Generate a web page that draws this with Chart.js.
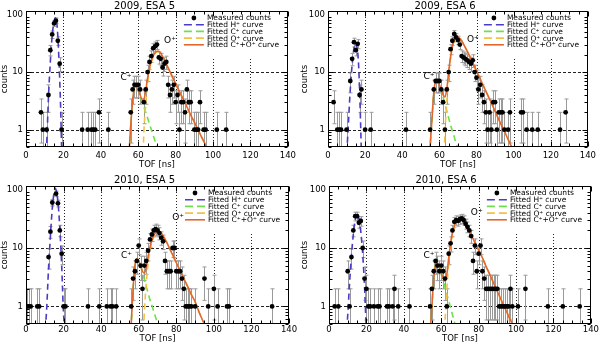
<!DOCTYPE html>
<html>
<head>
<meta charset="UTF-8"/>
<title>TOF spectra</title>
<script src="https://cdn.jsdelivr.net/npm/chart.js@4.4.0/dist/chart.umd.min.js"></script>
<style>
    body { margin: 0; background: #fff; }
    #wrap { position: relative; width: 600px; height: 345px; }
    #wrap canvas { position: absolute; }
</style>
</head>
<body>
<div id="wrap">
    <canvas id="p1" width="300" height="172" style="left:0;top:0"></canvas>
    <canvas id="p2" width="300" height="172" style="left:300px;top:0"></canvas>
    <canvas id="p3" width="300" height="173" style="left:0;top:172px"></canvas>
    <canvas id="p4" width="300" height="173" style="left:300px;top:172px"></canvas>
</div>
<script>
// axis ticks
var xTicks = [0, 20, 40, 60, 80, 100, 120, 140];
var yTicks = [1, 10, 100];

// measured counts [TOF ns, counts]
var counts1 = [[8,2],[9,1],[11,1],[12,4],[13,24],[14,45],[15,70],[16,78],[17,35],[18,14],[19,1],[30,1],[33,1],[35,1],[36,1],[37,1],[39,2],[44,1],
    [56,2],[57,5],[58,6],[59,6],[60,6],[61,5],[63,3],[64,5],[65,10],[66,15],[67,19],[68,26],[69,28],[70,30],[71,18],[72,17],[73,12],[74,14],[75,15],
    [76,6],[77,4],[78,5],[79,6],[80,3],[81,4],[82,1],[83,3],[84,3],[85,2],[86,5],[87,3],[88,3],[90,1],[91,1],[92,1],[93,3],[95,1],[96,1],[102,1],[107,1]];
var counts2 = [[3,3],[5,1],[6,1],[7,1],[10,1],[12,7],[13,17],[14,33],[15,24],[16,31],[17,4],[18,5],[20,1],[23,1],[42,1],
    [55,1],[57,5],[58,7],[59,7],[60,7],[61,5],[62,3],[63,1],[64,5],[65,10],[66,25],[67,35],[68,46],[69,40],[70,36],[71,30],[72,19],[73,18],[74,17],
    [75,16],[76,15],[77,14],[78,16],[79,10],[80,8],[81,5],[82,6],[83,4],[84,3],[85,2],[86,1],[87,2],[88,1],[89,3],[90,3],[91,1],[92,2],[93,2],[94,2],
    [95,1],[97,1],[98,2],[104,2],[105,2],[107,1],[110,1],[113,1],[125,1],[128,2]];
var counts3 = [[0.5,1],[1.5,1],[2.5,1],[6,1],[7,1],[12,7],[13,19],[14,60],[16,85],[17,58],[18,20],[19,8],[20,1],[21,1],[33,1],[39,1],[43,1],[45,1],[46,1],[48,1],
    [56,1],[57,3],[58,4],[59,6],[60,11],[61,5],[62,2],[63,5],[64,6],[65,9],[66,14],[67,17],[68,20],[69,21],[70,20],[71,18],[72,15],[73,13],[74,6],
    [75,4],[76,4],[77,4],[78,10],[79,10],[80,4],[81,4],[82,4],[83,3],[84,2],[85,1],[86,1],[87,1],[88,1],[90,1],[95,3],[97,1],[100,2],[102,1],[107,1],[108,1],[131,1]];
var counts4 = [[3,1],[5,1],[10,4],[11,1],[12,7],[13,20],[14,35],[15,35],[16,27],[17,29],[18,10],[19,3],[20,2],[21,1],[22,1],[24,1],[26,1],[27,1],[31,1],[32,1],[34,1],[35,2],[37,1],[43,1],
    [54,1],[55,2],[56,4],[57,6],[58,5],[59,4],[60,5],[61,4],[62,3],[63,1],[64,8],[65,12],[66,20],[67,28],[68,30],[69,29],[70,31],[71,32],[72,30],[73,26],
    [74,23],[75,20],[76,16],[77,6],[78,11],[79,4],[80,8],[81,11],[82,4],[83,3],[84,2],[85,2],[86,2],[87,2],[88,2],[89,2],[90,2],[91,1],[92,1],[93,1],
    [94,1],[95,1],[96,1],[97,2],[98,1],[101,1],[105,2],[117,1],[125,1],[134,1]];

// fitted curves [TOF ns, counts]
var hFit1 = [[10.8,0.4],[11,0.5],[12,3.6],[13,15],[14,43],[15,76],[15.8,88],[16.5,69],[17,43],[17.5,20],[18,7.6],[18.5,2.5],[19,0.55],[19.2,0.35]];
var cFit1 = [[55.1,0.4],[55.3,0.5],[56,1.2],[57,3.2],[58,5.5],[59,5.6],[60,4.8],[61,3.9],[62,3.1],[63,2.5],[64,2.0],[65,1.6],[66,1.25],[67,1.0],[68,0.8],[69,0.63],[70,0.5],[70.5,0.44]];
var oFit1 = [[62.5,0.4],[62.7,0.5],[63,0.9],[64,2.8],[65,6.3],[66,10.5],[67,14.8],[68,18.3],[69,21],[70,22.5],[71,22.6],[72,21],[73,18.5],[74,16],[75,13.8],[76,11.8],
    [78,8.6],[80,6.3],[82,4.6],[84,3.4],[86,2.5],[88,1.8],[90,1.35],[92,0.99],[94,0.73],[96,0.54],[97,0.45]];
var coFit1 = [[55.1,0.4],[55.3,0.5],[56,1.2],[57,3.2],[58,5.5],[59,5.6],[60,4.8],[61,4.0],[62,3.4],[63,3.4],[64,4.8],[65,7.9],[66,11.8],[67,15.8],[68,19.1],[69,21.6],
    [70,23],[71,23],[72,21.3],[73,18.7],[74,16.1],[75,13.9],[76,11.8],[78,8.6],[80,6.3],[82,4.6],[84,3.4],[86,2.5],[88,1.8],[90,1.35],[92,0.99],[94,0.73],[96,0.54],[97,0.45]];

var hFit2 = [[10.1,0.4],[10.3,0.5],[11,1.3],[12,5],[13,13.5],[14,26],[14.8,32],[15.5,28],[16,22],[16.5,13],[17,5],[17.5,1.5],[17.9,0.5],[18.1,0.35]];
var cFit2 = [[54.8,0.4],[55,0.5],[56,1.5],[57,4.5],[58,6.8],[59,7],[60,6],[61,4.8],[62,3.7],[63,2.8],[64,2.1],[65,1.6],[66,1.2],[67,0.95],[68,0.75],[69,0.58],[70,0.47],[70.3,0.42]];
var oFit2 = [[62.5,0.4],[62.7,0.5],[63,0.9],[64,3],[65,8.5],[66,17],[67,27],[68,35],[69,39.5],[70,40],[71,38],[72,34.5],[73,30.5],[74,26.5],[75,23],[76,19.8],
    [78,14.4],[80,10.5],[82,7.6],[84,5.5],[86,4.0],[88,2.9],[90,2.1],[92,1.5],[94,1.1],[96,0.8],[98,0.58],[99,0.5],[100,0.43]];
var coFit2 = [[54.8,0.4],[55,0.5],[56,1.5],[57,4.5],[58,6.8],[59,7],[60,6],[61,4.9],[62,4.0],[63,3.7],[64,5.1],[65,10.1],[66,18.2],[67,28],[68,35.8],[69,40.1],
    [70,40.5],[71,38.4],[72,34.8],[73,30.7],[74,26.6],[75,23],[76,19.8],[78,14.4],[80,10.5],[82,7.6],[84,5.5],[86,4.0],[88,2.9],[90,2.1],[92,1.5],[94,1.1],[96,0.8],[98,0.58],[99,0.5],[100,0.43]];

var hFit3 = [[10.3,0.4],[10.5,0.5],[11,0.9],[12,4.5],[13,16],[14,48],[15,92],[15.5,106],[16,98],[17,62],[18,22],[19,5],[19.8,1],[20.4,0.45],[20.6,0.35]];
var cFit3 = [[55.8,0.4],[56,0.5],[57,2],[58,5],[59,6.5],[60,6],[61,5],[62,3.8],[63,2.9],[64,2.2],[65,1.7],[66,1.3],[67,1.05],[68,0.82],[69,0.65],[70,0.52],[71,0.42]];
var oFit3 = [[62.5,0.4],[62.7,0.5],[63,0.8],[64,2.5],[65,5.5],[66,9],[67,12.5],[68,15.5],[69,17.8],[70,19],[71,19],[72,17.8],[73,16],[74,14],[75,12.2],[76,10.5],
    [78,7.7],[80,5.6],[82,4.1],[84,3.0],[86,2.2],[88,1.6],[90,1.2],[92,0.82],[94,0.58],[95,0.5],[96,0.43]];
var coFit3 = [[55.8,0.4],[56,0.5],[57,2],[58,5],[59,6.5],[60,6],[61,5],[62,4.0],[63,3.7],[64,4.7],[65,7.2],[66,10.3],[67,13.5],[68,16.3],[69,18.5],[70,19.5],
    [71,19.4],[72,18.1],[73,16.2],[74,14.2],[75,12.3],[76,10.5],[78,7.7],[80,5.6],[82,4.1],[84,3.0],[86,2.2],[88,1.6],[90,1.2],[92,0.82],[94,0.58],[95,0.5],[96,0.43]];

var hFit4 = [[9.5,0.4],[9.7,0.5],[10,0.7],[11,2.5],[12,7.5],[13,17],[14,30],[14.9,38],[15.5,36],[16,31],[17,19],[18,8],[19,2.2],[19.8,0.5],[20,0.38]];
var cFit4 = [[54.2,0.4],[54.4,0.5],[55,1],[56,3],[57,5.2],[57.6,5.7],[58,5.5],[59,4.7],[60,3.6],[61,2.8],[62,2.1],[63,1.6],[64,1.25],[65,0.95],[66,0.72],[67,0.55],[67.5,0.47],[68,0.41]];
var oFit4 = [[61.7,0.4],[61.9,0.5],[62,0.55],[63,2],[64,5.5],[65,11],[66,17.5],[67,23.5],[68,28],[69,30.5],[70,31],[71,30],[72,28],[73,25],[74,22],[75,19],[76,16.5],
    [78,12.5],[80,9.2],[82,6.8],[84,4.8],[86,3.5],[88,2.5],[90,1.8],[92,1.3],[94,0.95],[96,0.68],[98,0.5],[99,0.43]];
var coFit4 = [[54.2,0.4],[54.4,0.5],[55,1],[56,3],[57,5.2],[57.6,5.7],[58,5.5],[59,4.7],[60,3.7],[61,3.1],[62,2.7],[63,3.6],[64,6.8],[65,12],[66,18.2],[67,24],
    [68,28.4],[69,30.8],[70,31.2],[71,30.1],[72,28],[73,25],[74,22],[75,19],[76,16.5],[78,12.5],[80,9.2],[82,6.8],[84,4.8],[86,3.5],[88,2.5],[90,1.8],[92,1.3],[94,0.95],[96,0.68],[98,0.5],[99,0.43]];

var titles = ['2009, ESA 5', '2009, ESA 6', '2010, ESA 5', '2010, ESA 6'];
var legendLabels = ['Measured counts', 'Fitted H\u207A curve', 'Fitted C\u207A curve', 'Fitted O\u207A curve', 'Fitted C\u207A+O\u207A curve'];

var BLUE = '#4a3cc4', GREEN = '#6ee04c', YELLOW = '#f2c245', ORANGE = '#e2672c';
Chart.defaults.font.family = '"DejaVu Sans", "Liberation Sans", Arial, sans-serif';
Chart.defaults.color = '#000';

function xy(arr) {
    return arr.map(function (p) { return {x: p[0], y: p[1]}; });
}

// IDL-looking frame, grid, error bars, legend
var idlPlugin = {
    id: 'idl',
    beforeDatasetsDraw: function (chart) {
        var ctx = chart.ctx, a = chart.chartArea, x = chart.scales.x, y = chart.scales.y;
        ctx.save();
        ctx.beginPath();
        ctx.rect(a.left, a.top, a.right - a.left, a.bottom - a.top);
        ctx.clip();
        ctx.lineWidth = 1;
        ctx.strokeStyle = '#222';
        ctx.setLineDash([1, 2]);
        [20, 40, 60, 80, 100, 120].forEach(function (v) {
            var px = Math.round(x.getPixelForValue(v)) + 0.5;
            ctx.beginPath(); ctx.moveTo(px, a.top); ctx.lineTo(px, a.bottom); ctx.stroke();
        });
        ctx.setLineDash([3, 2]);
        [1, 10].forEach(function (v) {
            var py = Math.round(y.getPixelForValue(v)) + 0.5;
            ctx.beginPath(); ctx.moveTo(a.left, py); ctx.lineTo(a.right, py); ctx.stroke();
        });
        ctx.setLineDash([]);
        // legend background
        ctx.fillStyle = '#fff';
        ctx.fillRect(a.right - 107, a.top, 107, 48);

        // Poisson error bars
        var meas = chart.data.datasets[chart.data.datasets.length - 1].data;
        ctx.strokeStyle = '#9a9a9a';
        meas.forEach(function (p) {
            var e = Math.sqrt(p.y);
            var px = Math.round(x.getPixelForValue(p.x)) + 0.5;
            var top = y.getPixelForValue(p.y + e);
            var lo = p.y - e;
            var bot = lo > 0 ? y.getPixelForValue(lo) : a.bottom + 5;
            ctx.beginPath();
            ctx.moveTo(px, top); ctx.lineTo(px, bot);
            ctx.moveTo(px - 2, top); ctx.lineTo(px + 2, top);
            if (lo > 0) { ctx.moveTo(px - 2, bot); ctx.lineTo(px + 2, bot); }
            ctx.stroke();
        });
        ctx.restore();
    },
    afterDatasetsDraw: function (chart) {
        var ctx = chart.ctx, a = chart.chartArea, x = chart.scales.x, y = chart.scales.y;
        var o = chart.options.plugins.idl;
        ctx.save();
        // peak labels
        ctx.font = '9px "DejaVu Sans", sans-serif';
        ctx.fillStyle = '#000';
        ctx.textAlign = 'center';
        ctx.textBaseline = 'middle';
        ctx.fillText('C\u207A', x.getPixelForValue(o.cLab[0]), y.getPixelForValue(o.cLab[1]));
        ctx.fillText('O\u207A', x.getPixelForValue(o.oLab[0]), y.getPixelForValue(o.oLab[1]));

        // legend
        ctx.font = '7.5px "DejaVu Sans", sans-serif';
        ctx.textAlign = 'left';
        var styles = [null, [BLUE, [8, 4]], [GREEN, [8, 4]], [YELLOW, [8, 4]], [ORANGE, []]];
        legendLabels.forEach(function (t, i) {
            var ry = a.top + 7 + i * 6.7;
            if (i === 0) {
                ctx.beginPath();
                ctx.arc(a.right - 94, ry, 2.4, 0, Math.PI * 2);
                ctx.fillStyle = '#000';
                ctx.fill();
            } else {
                ctx.strokeStyle = styles[i][0];
                ctx.lineWidth = 1.6;
                ctx.setLineDash(styles[i][1]);
                ctx.beginPath();
                ctx.moveTo(a.right - 104, ry); ctx.lineTo(a.right - 84, ry);
                ctx.stroke();
                ctx.setLineDash([]);
            }
            ctx.fillStyle = '#000';
            ctx.fillText(t, a.right - 81, ry + 0.5);
        });

        // frame and ticks
        ctx.strokeStyle = '#000';
        ctx.lineWidth = 1;
        var L = Math.round(a.left) + 0.5, R = Math.round(a.right) - 0.5, T = Math.round(a.top) + 0.5, B = Math.round(a.bottom) - 0.5;
        ctx.strokeRect(L, T, R - L, B - T);
        ctx.beginPath();
        for (var v = 0; v <= 140; v += 5) {
            var len = v % 20 === 0 ? 5 : 3;
            var px = Math.round(x.getPixelForValue(v)) + 0.5;
            ctx.moveTo(px, B); ctx.lineTo(px, B - len);
            ctx.moveTo(px, T); ctx.lineTo(px, T + len);
        }
        [0.1, 1, 10].forEach(function (d) {
            for (var k = 1; k <= 9; k++) {
                var val = d * k;
                if (val < 0.5 || val > 115) continue;
                var len2 = k === 1 ? 5 : 3;
                var py = Math.round(y.getPixelForValue(val)) + 0.5;
                ctx.moveTo(L, py); ctx.lineTo(L + len2, py);
                ctx.moveTo(R, py); ctx.lineTo(R - len2, py);
            }
        });
        ctx.stroke();
        ctx.restore();
    }
};

function makePanel(id, n, counts, h, c, o, co, cLab, oLab, geo) {
    new Chart(document.getElementById(id), {
        type: 'scatter',
        data: {
            datasets: [
                {label: 'Fitted C+ curve', data: xy(c), showLine: true, borderColor: GREEN, borderWidth: 1.6, borderDash: [6, 4], pointRadius: 0, cubicInterpolationMode: 'monotone', clip: 0, order: 4},
                {label: 'Fitted O+ curve', data: xy(o), showLine: true, borderColor: YELLOW, borderWidth: 1.6, borderDash: [6, 4], pointRadius: 0, cubicInterpolationMode: 'monotone', clip: 0, order: 3},
                {label: 'Fitted H+ curve', data: xy(h), showLine: true, borderColor: BLUE, borderWidth: 1.6, borderDash: [6, 4], pointRadius: 0, cubicInterpolationMode: 'monotone', clip: 0, order: 2},
                {label: 'Fitted C+O curve', data: xy(co), showLine: true, borderColor: ORANGE, borderWidth: 1.6, pointRadius: 0, cubicInterpolationMode: 'monotone', clip: 0, order: 1},
                {label: 'Measured counts', data: xy(counts), pointRadius: 2.4, pointBackgroundColor: '#000', pointBorderColor: '#000', pointBorderWidth: 0, order: 0}
            ]
        },
        options: {
            responsive: false,
            animation: false,
            events: [],
            layout: {padding: {left: 0, right: geo.right, top: geo.top, bottom: 0}},
            plugins: {
                legend: {display: false},
                tooltip: {enabled: false},
                title: {display: true, text: titles[n], font: {size: 10, weight: 'normal', lineHeight: 1.0}, padding: {top: 0, bottom: geo.tpad}, color: '#000'},
                idl: {cLab: cLab, oLab: oLab}
            },
            scales: {
                x: {
                    type: 'linear', min: 0, max: 140,
                    afterBuildTicks: function (s) { s.ticks = xTicks.map(function (v) { return {value: v}; }); },
                    afterFit: function (s) { s.height = geo.xh; },
                    ticks: {font: {size: 8.5}, padding: geo.xpad, maxRotation: 0, autoSkip: false, color: '#000'},
                    grid: {display: false, drawTicks: false},
                    border: {display: false},
                    title: {display: true, text: 'TOF [ns]', font: {size: 8.5}, padding: {top: 0, bottom: geo.ttpad}, color: '#000'}
                },
                y: {
                    type: 'logarithmic', min: 0.5, max: 115,
                    afterBuildTicks: function (s) { s.ticks = yTicks.map(function (v) { return {value: v}; }); },
                    afterFit: function (s) { s.width = geo.left; },
                    ticks: {font: {size: 8.5}, padding: 3, color: '#000', callback: function (v) { return String(v); }},
                    grid: {display: false, drawTicks: false},
                    border: {display: false},
                    title: {display: true, text: 'counts', font: {size: 8.5}, padding: {top: 0, bottom: 0}, color: '#000'}
                }
            }
        },
        plugins: [idlPlugin]
    });
}

var topGeo1 = {left: 26, right: 11, top: 1, tpad: 0, xh: 25, xpad: 4, ttpad: 2};
var topGeo2 = {left: 28, right: 10, top: 1, tpad: 0, xh: 25, xpad: 4, ttpad: 2};
var botGeo1 = {left: 26, right: 11, top: 3.5, tpad: 0.5, xh: 21, xpad: 1, ttpad: 1};
var botGeo2 = {left: 29, right: 8, top: 3.5, tpad: 0.5, xh: 21, xpad: 1, ttpad: 1};

makePanel('p1', 0, counts1, hFit1, cFit1, oFit1, coFit1, [53.5, 7.9], [77, 35], topGeo1);
makePanel('p2', 1, counts2, hFit2, cFit2, oFit2, coFit2, [54.4, 8.3], [78, 37], topGeo2);
makePanel('p3', 2, counts3, hFit3, cFit3, oFit3, coFit3, [53.5, 7.5], [81, 33], botGeo1);
makePanel('p4', 3, counts4, hFit4, cFit4, oFit4, coFit4, [53.5, 7.5], [79, 40], botGeo2);
</script>
</body>
</html>
